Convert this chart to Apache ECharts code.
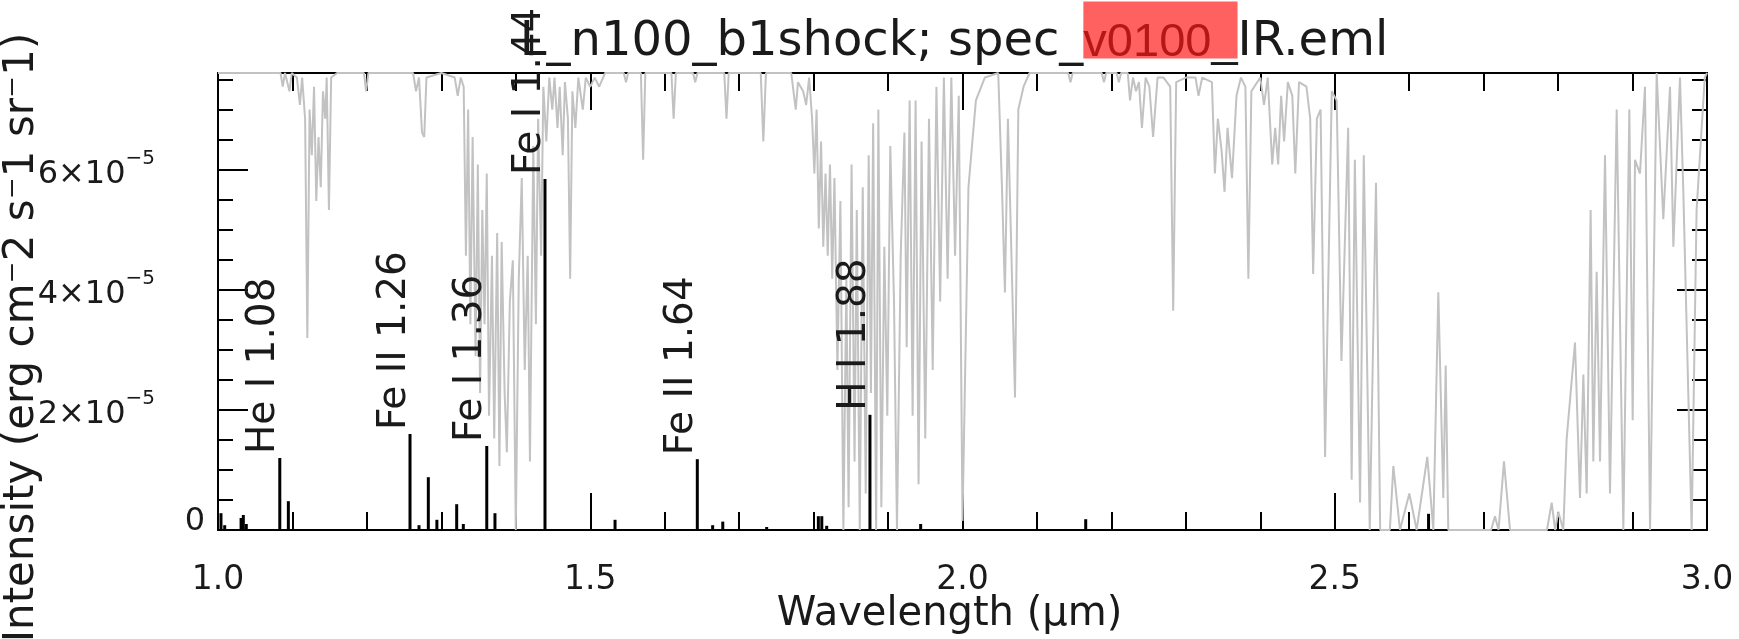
<!DOCTYPE html>
<html>
<head>
<meta charset="utf-8">
<script src="https://cdn.jsdelivr.net/npm/echarts@6/dist/echarts.min.js"></script>
<style>
  html, body { margin: 0; padding: 0; background: #fff; }
  #chart { width: 1739px; height: 639px; }
</style>
</head>
<body>
<div id="chart"></div>
<script>
// emission lines: wavelength (um) and intensity (units of 1e-5 erg cm-2 s-1 sr-1)
var lineWave = [1.004, 1.009, 1.031, 1.034, 1.038, 1.083, 1.0945, 1.2579, 1.270, 1.2825, 1.294, 1.3206, 1.3295,
  1.361, 1.372, 1.4392, 1.5333, 1.6438, 1.6644, 1.678, 1.737, 1.8064, 1.811, 1.8176, 1.8757, 1.9438, 2.1655, 2.626];
var lineFlux = [0.28, 0.08, 0.2, 0.25, 0.1, 1.2, 0.48, 1.6, 0.08, 0.88, 0.17, 0.43, 0.1,
  1.4, 0.28, 5.85, 0.17, 1.18, 0.08, 0.14, 0.05, 0.23, 0.23, 0.07, 1.92, 0.1, 0.18, 0.27];

// labelled lines
var labelWave = [1.083, 1.2579, 1.361, 1.4392, 1.6438, 1.8757];
var labelText = ['He I 1.08', 'Fe II 1.26', 'Fe I 1.36', 'Fe I 1.44', 'Fe II 1.64', 'H I 1.88'];

// title pieces; the middle one is highlighted
var titleParts = ['L_n100_b1shock; spec_', 'v0100_', 'IR.eml'];

// atmospheric transmission (0..1), [wavelength, T]
var transmission = [
  [1.000, 1.0], [1.084, 1.0], [1.087, 0.97], [1.090, 1.0], [1.096, 0.96], [1.099, 1.0], [1.106, 0.99],
  [1.110, 0.93], [1.113, 0.99], [1.117, 0.90], [1.120, 0.42], [1.123, 0.92], [1.126, 0.82], [1.129, 0.97],
  [1.132, 0.72], [1.135, 0.86], [1.138, 0.75], [1.141, 0.96], [1.144, 0.9], [1.146, 0.99], [1.149, 0.70],
  [1.152, 0.99], [1.160, 1.0], [1.196, 1.0], [1.199, 0.96], [1.202, 1.0], [1.262, 1.0], [1.266, 0.96],
  [1.270, 0.99], [1.274, 0.87], [1.277, 0.86], [1.280, 0.99], [1.300, 1.0], [1.318, 0.99], [1.322, 0.95],
  [1.326, 0.99], [1.330, 0.97], [1.333, 0.60], [1.336, 0.92], [1.339, 0.45], [1.342, 0.86], [1.346, 0.38],
  [1.349, 0.80], [1.352, 0.30], [1.355, 0.70], [1.358, 0.45], [1.361, 0.78], [1.364, 0.25], [1.368, 0.60],
  [1.371, 0.20], [1.375, 0.65], [1.378, 0.14], [1.381, 0.63], [1.385, 0.30], [1.388, 0.17], [1.392, 0.50],
  [1.396, 0.59], [1.400, 0.0], [1.404, 0.55], [1.408, 0.77], [1.412, 0.35], [1.416, 0.60], [1.419, 0.15],
  [1.4235, 0.84], [1.427, 0.45], [1.430, 0.90], [1.434, 0.6], [1.437, 0.97], [1.441, 0.85], [1.445, 0.99],
  [1.449, 0.92], [1.452, 0.99], [1.456, 0.88], [1.459, 0.97], [1.463, 0.82], [1.466, 0.98], [1.470, 0.9],
  [1.473, 0.55], [1.476, 0.96], [1.480, 0.88], [1.484, 0.99], [1.490, 0.92], [1.494, 0.99], [1.500, 0.97],
  [1.506, 0.99], [1.512, 0.97], [1.520, 1.0], [1.545, 1.0], [1.548, 0.98], [1.551, 1.0], [1.568, 1.0],
  [1.571, 0.81], [1.574, 1.0], [1.609, 1.0], [1.612, 0.90], [1.615, 1.0], [1.638, 1.0], [1.641, 0.98],
  [1.644, 1.0], [1.680, 1.0], [1.683, 0.90], [1.686, 1.0], [1.729, 1.0], [1.7325, 0.85], [1.736, 1.0],
  [1.770, 1.0], [1.773, 0.96], [1.776, 0.92], [1.779, 0.98], [1.786, 0.96], [1.790, 0.93], [1.794, 0.99],
  [1.798, 0.9], [1.801, 0.78], [1.804, 0.92], [1.807, 0.66], [1.810, 0.85], [1.813, 0.62], [1.816, 0.78],
  [1.819, 0.60], [1.822, 0.80], [1.825, 0.55], [1.828, 0.77], [1.832, 0.35], [1.836, 0.72], [1.840, 0.0],
  [1.844, 0.55], [1.847, 0.05], [1.851, 0.80], [1.855, 0.15], [1.858, 0.70], [1.862, 0.0], [1.866, 0.75],
  [1.870, 0.08], [1.874, 0.82], [1.877, 0.30], [1.880, 0.89], [1.884, 0.0], [1.887, 0.92], [1.891, 0.05],
  [1.895, 0.62], [1.899, 0.25], [1.903, 0.84], [1.908, 0.5], [1.912, 0.0], [1.917, 0.6], [1.922, 0.87],
  [1.925, 0.4], [1.929, 0.94], [1.933, 0.25], [1.937, 0.94], [1.941, 0.1], [1.945, 0.85], [1.950, 0.2],
  [1.955, 0.9], [1.960, 0.35], [1.965, 0.97], [1.970, 0.5], [1.975, 0.99], [1.980, 0.55], [1.985, 0.99],
  [1.990, 0.6], [1.995, 0.95], [2.000, 0.02], [2.008, 0.75], [2.018, 0.94], [2.030, 0.99], [2.048, 1.0],
  [2.053, 0.75], [2.057, 0.52], [2.061, 0.9], [2.065, 0.65], [2.0705, 0.29], [2.075, 0.92], [2.082, 0.97],
  [2.090, 1.0], [2.142, 1.0], [2.145, 0.98], [2.148, 1.0], [2.187, 1.0], [2.190, 0.98], [2.193, 1.0],
  [2.207, 1.0], [2.210, 0.98], [2.213, 1.0], [2.222, 1.0], [2.225, 0.94], [2.229, 0.99], [2.233, 0.96],
  [2.237, 0.98], [2.241, 0.88], [2.246, 0.99], [2.251, 0.97], [2.256, 0.86], [2.262, 0.99], [2.270, 0.99],
  [2.279, 0.97], [2.283, 0.48], [2.287, 0.98], [2.300, 0.99], [2.313, 0.99], [2.317, 0.95], [2.322, 0.99],
  [2.335, 0.98], [2.339, 0.78], [2.343, 0.9], [2.348, 0.83], [2.352, 0.74], [2.356, 0.88], [2.362, 0.77],
  [2.368, 0.95], [2.374, 0.99], [2.380, 0.97], [2.384, 0.55], [2.388, 0.96], [2.400, 0.99], [2.405, 0.93],
  [2.410, 0.99], [2.416, 0.80], [2.420, 0.88], [2.424, 0.80], [2.428, 0.95], [2.432, 0.85], [2.437, 0.98],
  [2.443, 0.95], [2.447, 0.78], [2.452, 0.98], [2.462, 0.97], [2.467, 0.9], [2.471, 0.56], [2.476, 0.9],
  [2.481, 0.92], [2.487, 0.16], [2.496, 0.96], [2.5026, 0.94], [2.509, 0.37], [2.518, 0.88], [2.5227, 0.11],
  [2.527, 0.81], [2.534, 0.06], [2.539, 0.82], [2.547, 0.0], [2.5554, 0.76], [2.561, 0.0], [2.574, 0.0],
  [2.5787, 0.14], [2.5876, 0.0], [2.6002, 0.08], [2.610, 0.0], [2.6243, 0.16], [2.6324, 0.0], [2.6391, 0.52],
  [2.6458, 0.07], [2.649, 0.36], [2.6525, 0.0], [2.710, 0.0], [2.7152, 0.03], [2.720, 0.0], [2.7273, 0.15],
  [2.7354, 0.0], [2.785, 0.0], [2.7914, 0.06], [2.7960, 0.0], [2.8003, 0.04], [2.807, 0.0], [2.8115, 0.2],
  [2.8227, 0.41], [2.8294, 0.07], [2.8339, 0.34], [2.8384, 0.08], [2.8437, 0.70], [2.8473, 0.15],
  [2.8518, 0.565], [2.8563, 0.15], [2.863, 0.82], [2.8697, 0.08], [2.8787, 0.92], [2.8876, 0.0],
  [2.8957, 0.92], [2.9002, 0.24], [2.9033, 0.81], [2.910, 0.78], [2.9167, 0.97], [2.9235, 0.0],
  [2.9324, 1.0], [2.9413, 0.68], [2.9503, 0.97], [2.9548, 0.62], [2.9637, 0.99], [2.9682, 0.74],
  [2.9794, 0.0], [2.986, 0.7], [2.997, 0.99], [3.000, 1.0]
];

var yMax = 7.617e-5;
var yMajor = 2e-5;
var yMinor = 0.5e-5;

var FONT = 'DejaVu Sans';
var chart = echarts.init(document.getElementById('chart'));

var lineData = lineWave.map(function (w, i) { return [w, lineFlux[i] * 1e-5]; });
var labelData = labelWave.map(function (w, i) {
  return [w, lineFlux[lineWave.indexOf(w)] * 1e-5, labelText[i]];
});

function yLabel(v) {
  if (Math.abs(v / yMajor - Math.round(v / yMajor)) > 1e-6) return '';
  var n = Math.round(v / 1e-5);
  if (n === 0) return '{z|0}';
  return '{m|' + n + '×10}{s|−5}';
}

// two stacked titles share one layout: the text, then the red highlight over the middle part
function titleText() {
  return '{a|' + titleParts[0] + '}{b|' + titleParts[1] + '}{a|' + titleParts[2] + '}';
}
function titleRich(color, midBg, lh, midPad) {
  return {
    a: { fontFamily: FONT, fontSize: 48, fontWeight: 'normal', color: color, lineHeight: lh },
    b: {
      fontFamily: 'Liberation Sans', fontSize: 47, fontWeight: 'normal', color: color, lineHeight: lh,
      backgroundColor: midBg, padding: midPad
    }
  };
}

var tickStyle = { color: '#000', width: 2 };
var frameLine = { show: true, onZero: false, lineStyle: { color: '#000', width: 2 } };
var baseY = {
  type: 'value', min: 0, max: yMax,
  splitLine: { show: false },
  axisLine: { show: false },
  axisLabel: { show: false }
};

var option = {
  animation: false,
  backgroundColor: '#fff',
  title: [{
    left: 954, top: 15, padding: 0, textAlign: 'center',
    text: titleText(),
    textStyle: { rich: titleRich('#1a1a1a', 'transparent', 56, 0) }
  }, {
    left: 954, top: 0, padding: 0, textAlign: 'center',
    text: titleText(),
    textStyle: { rich: titleRich('transparent', 'rgba(255, 20, 20, 0.68)', 60, [4, 0, 6, 0]) }
  }],
  grid: { left: 218, top: 73, right: 32, bottom: 109, outerBoundsMode: 'none', containLabel: false },
  xAxis: [{
    type: 'value', min: 1, max: 3, interval: 0.5,
    position: 'bottom',
    name: 'Wavelength (μm)', nameLocation: 'middle', nameGap: 65, nameMoveOverlap: false,
    nameTextStyle: { fontFamily: FONT, fontSize: 40, color: '#1a1a1a', padding: [0, 26, 0, 0] },
    axisLine: frameLine,
    axisTick: { inside: true, length: 37, lineStyle: tickStyle },
    minorTick: { show: true, splitNumber: 5, length: 18, lineStyle: tickStyle },
    splitLine: { show: false },
    axisLabel: {
      margin: 34, fontFamily: FONT, fontSize: 33, color: '#1a1a1a',
      formatter: function (v) { return v.toFixed(1); }
    }
  }, {
    type: 'value', min: 1, max: 3, interval: 0.5,
    position: 'top',
    axisLine: frameLine,
    axisTick: { inside: true, length: 37, lineStyle: tickStyle },
    minorTick: { show: true, splitNumber: 5, length: 18, lineStyle: tickStyle },
    splitLine: { show: false },
    axisLabel: { show: false }
  }],
  yAxis: [
    echarts.util.merge({
      position: 'left', interval: yMajor,
      name: 'Intensity (erg cm⁻2 s⁻1 sr⁻1)', nameLocation: 'middle', nameGap: 175, nameRotate: 90,
      nameMoveOverlap: false,
      nameTextStyle: { fontFamily: FONT, fontSize: 42, color: '#1a1a1a', padding: [0, 72, 0, 0] },
      axisLine: frameLine,
      axisTick: { inside: true, length: 30, lineStyle: tickStyle },
      axisLabel: {
        show: true, margin: 13, formatter: yLabel, showMaxLabel: false,
        rich: {
          z: { fontFamily: FONT, fontSize: 32, color: '#1a1a1a', padding: [0, 0, 16, 0] },
          m: { fontFamily: FONT, fontSize: 32, color: '#1a1a1a', lineHeight: 42, verticalAlign: 'bottom' },
          s: { fontFamily: FONT, fontSize: 20, color: '#1a1a1a', lineHeight: 20, verticalAlign: 'top', padding: [0, 50, 0, 0] }
        }
      }
    }, baseY, false),
    echarts.util.merge({
      position: 'left', interval: yMinor,
      axisTick: { inside: true, length: 15, lineStyle: tickStyle }
    }, baseY, false),
    echarts.util.merge({
      position: 'right', interval: yMajor,
      axisLine: frameLine,
      axisTick: { inside: true, length: 30, lineStyle: tickStyle }
    }, baseY, false),
    echarts.util.merge({
      position: 'right', interval: yMinor,
      axisTick: { inside: true, length: 15, lineStyle: tickStyle }
    }, baseY, false),
    { type: 'value', min: 0, max: 1, show: false }
  ],
  series: [{
    name: 'transmission',
    type: 'line',
    xAxisIndex: 0,
    yAxisIndex: 4,
    data: transmission,
    showSymbol: false,
    clip: true,
    lineStyle: { color: '#c2c2c2', width: 2 },
    z: 1
  }, {
    name: 'lines',
    type: 'custom',
    xAxisIndex: 0,
    yAxisIndex: 0,
    data: lineData,
    clip: true,
    z: 3,
    renderItem: function (params, api) {
      var top = api.coord([api.value(0), api.value(1)]);
      var base = api.coord([api.value(0), 0]);
      return {
        type: 'line',
        shape: { x1: base[0], y1: base[1], x2: top[0], y2: top[1] },
        style: { stroke: '#000', lineWidth: 3 }
      };
    }
  }, {
    name: 'labels',
    type: 'custom',
    xAxisIndex: 0,
    yAxisIndex: 0,
    data: labelData,
    clip: false,
    z: 4,
    renderItem: function (params, api) {
      var top = api.coord([api.value(0), api.value(1)]);
      return {
        type: 'text',
        x: top[0] + 4,
        y: top[1] - 4,
        rotation: Math.PI / 2,
        style: {
          text: labelData[params.dataIndex][2],
          font: '39px "DejaVu Sans"',
          fill: '#1a1a1a',
          align: 'left',
          verticalAlign: 'bottom'
        }
      };
    }
  }]
};

chart.setOption(option);
</script>
</body>
</html>
